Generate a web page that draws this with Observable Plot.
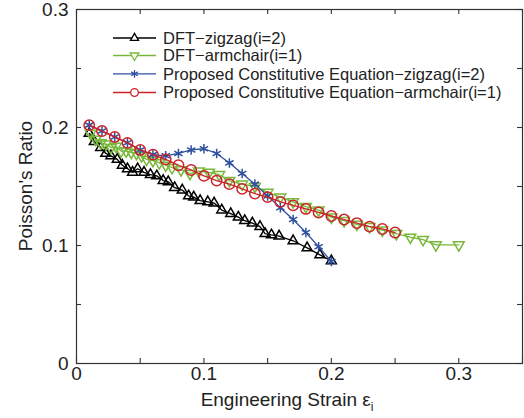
<!DOCTYPE html>
<html><head><meta charset="utf-8">
<script src="https://cdn.jsdelivr.net/npm/d3@7"></script>
<script src="https://cdn.jsdelivr.net/npm/@observablehq/plot@0.6"></script>
<style>body{margin:0;background:#fff}</style>
</head><body><div id="chart"></div>
<script>
const seriesNames = [
  "DFT\u2212zigzag(i=2)",
  "DFT\u2212armchair(i=1)",
  "Proposed Constitutive Equation\u2212zigzag(i=2)",
  "Proposed Constitutive Equation\u2212armchair(i=1)"
];
const seriesColors = ["#000000", "#78b83a", "#2f4f9f", "#cc2229"];

const dftZigzagX = [0.010,0.014,0.019,0.023,0.027,0.032,0.036,0.040,0.044,0.048,0.053,0.058,0.063,0.068,0.072,0.077,0.083,0.088,0.092,0.097,0.103,0.108,0.114,0.121,0.127,0.132,0.138,0.144,0.148,0.153,0.159,0.170,0.181,0.191,0.200];
const dftZigzagY = [0.195,0.188,0.183,0.178,0.176,0.173,0.168,0.165,0.162,0.165,0.162,0.160,0.159,0.155,0.154,0.149,0.147,0.142,0.141,0.138,0.137,0.136,0.130,0.127,0.124,0.121,0.119,0.116,0.110,0.109,0.108,0.104,0.098,0.092,0.087];

const dftArmchairX = [0.011,0.015,0.019,0.023,0.027,0.031,0.035,0.039,0.043,0.047,0.051,0.055,0.060,0.065,0.070,0.075,0.082,0.089,0.096,0.104,0.112,0.120,0.130,0.140,0.150,0.160,0.170,0.180,0.190,0.200,0.210,0.220,0.230,0.240,0.251,0.262,0.272,0.282,0.300];
const dftArmchairY = [0.195,0.190,0.187,0.186,0.183,0.184,0.180,0.180,0.179,0.178,0.176,0.173,0.172,0.170,0.168,0.166,0.164,0.161,0.163,0.162,0.160,0.155,0.152,0.150,0.145,0.141,0.137,0.133,0.130,0.124,0.121,0.118,0.116,0.113,0.110,0.107,0.105,0.1005,0.1005];

const propZigzagX = [0.01,0.02,0.03,0.04,0.05,0.06,0.07,0.08,0.09,0.10,0.11,0.12,0.13,0.14,0.15,0.16,0.17,0.18,0.19,0.20];
const propZigzagY = [0.202,0.197,0.192,0.187,0.181,0.177,0.176,0.178,0.181,0.182,0.178,0.170,0.161,0.152,0.142,0.132,0.122,0.111,0.099,0.0865];

const propArmchairX = [0.01,0.02,0.03,0.04,0.05,0.06,0.07,0.08,0.09,0.10,0.11,0.12,0.13,0.14,0.15,0.16,0.17,0.18,0.19,0.20,0.21,0.22,0.23,0.24,0.25];
const propArmchairY = [0.202,0.197,0.192,0.187,0.181,0.177,0.173,0.168,0.164,0.159,0.155,0.152,0.148,0.144,0.141,0.137,0.134,0.131,0.128,0.125,0.122,0.119,0.116,0.114,0.111];

const xTicks = [0, 0.1, 0.2, 0.3];
const xMinorTicks = [0, 0.05, 0.1, 0.15, 0.2, 0.25, 0.3, 0.35];
const yTicks = [0, 0.1, 0.2, 0.3];
const yMinorTicks = [0, 0.05, 0.1, 0.15, 0.2, 0.25, 0.3];
const xLabel = "Engineering Strain \u03b5";
const xLabelSub = "i";
const yLabel = "Poisson's Ratio";

const W = 524, H = 418, mL = 76, mR = 2, mT = 9, mB = 55;
const plotH = H - mT - mB, plotW = W - mL - mR;
const tk = 5;
const font = "'Liberation Sans', Arial, Helvetica, sans-serif";

const triDown = {
  draw(ctx, size) {
    const y = Math.sqrt(size / (Math.sqrt(3) * 3));
    ctx.moveTo(0, y * 2);
    ctx.lineTo(-Math.sqrt(3) * y, -y);
    ctx.lineTo(Math.sqrt(3) * y, -y);
    ctx.closePath();
  }
};
const symbols = ["triangle", triDown, "asterisk", "circle"];
const radii = [3.7, 4.0, 4.5, 5.2];
const legendRadii = [3.0, 3.2, 3.6, 3.8];

const rows = (xs, ys) => xs.map((x, i) => ({x, y: ys[i]}));
const series = [
  rows(dftZigzagX, dftZigzagY),
  rows(dftArmchairX, dftArmchairY),
  rows(propZigzagX, propZigzagY),
  rows(propArmchairX, propArmchairY)
];

const fmt = d => d === 0 ? "0" : d3.format(".1f")(d);

const dataMarks = [];
series.forEach((s, i) => {
  dataMarks.push(Plot.line(s, {x: "x", y: "y", stroke: seriesColors[i], strokeWidth: 1.3}));
  dataMarks.push(Plot.dot(s, {x: "x", y: "y", symbol: () => symbols[i], r: radii[i], stroke: seriesColors[i], strokeWidth: 1.5, fill: "none"}));
});

const chart = Plot.plot({
  width: W, height: H,
  marginLeft: mL, marginRight: mR, marginTop: mT, marginBottom: mB,
  style: {fontFamily: font, fontSize: "19px", color: "#222", background: "#fff"},
  x: {domain: [0, 0.35]},
  y: {domain: [0, 0.3]},
  marks: [
    Plot.tickX(xMinorTicks, {x: d => d, insetTop: plotH - tk, stroke: "#333", strokeWidth: 1.1}),
    Plot.tickX(xMinorTicks, {x: d => d, insetBottom: plotH - tk, stroke: "#333", strokeWidth: 1.1}),
    Plot.tickY(yMinorTicks, {y: d => d, insetRight: plotW - tk, stroke: "#333", strokeWidth: 1.1}),
    Plot.tickY(yMinorTicks, {y: d => d, insetLeft: plotW - tk, stroke: "#333", strokeWidth: 1.1}),
    Plot.axisX(xTicks, {tickSize: 0, tickPadding: 3, tickFormat: fmt, label: null, fontSize: 19, fill: "#222"}),
    Plot.axisY(yTicks, {tickSize: 0, tickPadding: 8, tickFormat: fmt, label: null, fontSize: 19, fill: "#222"}),
    ...dataMarks,
    Plot.frame({stroke: "#333", strokeWidth: 1.2})
  ]
});

const svg = d3.select(chart);
// axis labels
const xl = svg.append("text")
  .attr("x", 287).attr("y", 406)
  .attr("text-anchor", "middle")
  .attr("font-family", font).attr("font-size", 19).attr("fill", "#222");
xl.append("tspan").text(xLabel);
xl.append("tspan").attr("font-size", 12).attr("dy", 5).text(xLabelSub);

svg.append("text")
  .attr("transform", "translate(32,186) rotate(-90)")
  .attr("text-anchor", "middle")
  .attr("font-family", font).attr("font-size", 19).attr("fill", "#222")
  .text(yLabel);

// legend
const legendRowsY = [38, 55.5, 73.8, 92.5];
const lg = svg.append("g").attr("text-anchor", "start");
seriesNames.forEach((name, i) => {
  const cy = legendRowsY[i];
  lg.append("line").attr("x1", 113).attr("x2", 156).attr("y1", cy).attr("y2", cy)
    .attr("stroke", seriesColors[i]).attr("stroke-width", 1.3);
  const sym = typeof symbols[i] === "string"
    ? {triangle: d3.symbolTriangle, asterisk: d3.symbolAsterisk, circle: d3.symbolCircle}[symbols[i]]
    : symbols[i];
  lg.append("path")
    .attr("d", d3.symbol(sym, Math.PI * legendRadii[i] * legendRadii[i])())
    .attr("transform", `translate(134.5,${cy})`)
    .attr("fill", symbols[i] === "circle" || i < 2 ? "#fff" : "none")
    .attr("stroke", seriesColors[i]).attr("stroke-width", 1.3);
  lg.append("text").attr("x", 163).attr("y", cy).attr("dy", "0.35em")
    .attr("text-anchor", "start")
    .attr("font-family", font).attr("font-size", 16.5).attr("fill", "#222")
    .text(name);
});

document.getElementById("chart").appendChild(chart);
</script>
</body></html>
